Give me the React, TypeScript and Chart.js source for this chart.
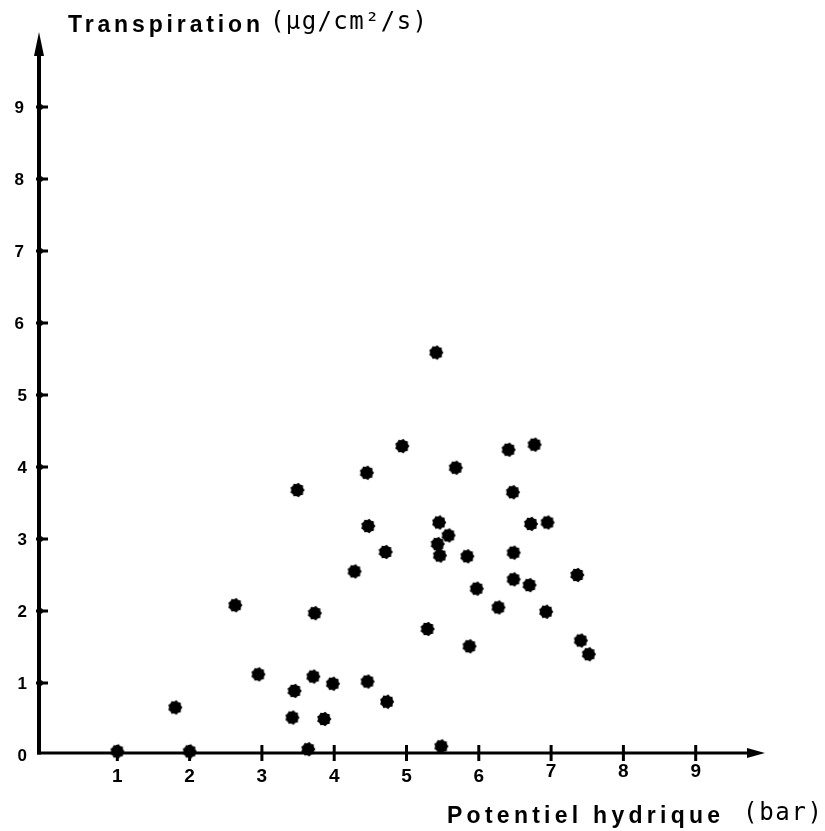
import { useEffect, useRef } from 'react';
import { Chart, registerables } from 'chart.js';

Chart.register(...registerables);

// Potentiel hydrique (bar)
const potentielHydrique = [
  1.0, 1.8, 2.0, 2.63, 2.95, 3.49, 3.42, 3.45, 3.71, 3.73, 3.64, 3.86, 3.98, 4.28, 4.46,
  4.47, 4.45, 4.71, 4.73, 4.94, 5.29, 5.48, 5.45, 5.41, 6.41, 6.77, 5.68, 6.47, 6.72, 6.95,
  5.58, 5.43, 5.46, 5.84, 6.48, 6.48, 6.7, 7.36, 5.97, 6.27, 6.93, 5.87, 7.41, 7.52,
];
// Transpiration (µg/cm²/s)
const transpiration = [
  0.05, 0.66, 0.05, 2.08, 1.12, 3.68, 0.52, 0.89, 1.09, 1.97, 0.08, 0.5, 0.99, 2.55, 1.02,
  3.18, 3.92, 2.82, 0.74, 4.29, 1.75, 0.12, 3.23, 5.59, 4.24, 4.31, 3.99, 3.65, 3.21, 3.23,
  3.05, 2.93, 2.77, 2.76, 2.81, 2.44, 2.36, 2.5, 2.31, 2.05, 1.99, 1.51, 1.59, 1.4,
];

const xTickValues = [1, 2, 3, 4, 5, 6, 7, 8, 9];
const xTickLabels = ['1', '2', '3', '4', '5', '6', '7', '8', '9'];
const yTickValues = [0, 1, 2, 3, 4, 5, 6, 7, 8, 9];
const yTickLabels = ['0', '1', '2', '3', '4', '5', '6', '7', '8', '9'];

const yAxisTitle = 'Transpiration';
const yAxisUnit = '(µg/cm²/s)';
const xAxisTitle = 'Potentiel hydrique';
const xAxisUnit = '(bar)';

function makeDot(): HTMLCanvasElement {
  const c = document.createElement('canvas');
  c.width = 16;
  c.height = 16;
  const g = c.getContext('2d')!;
  g.fillStyle = '#000';
  g.beginPath();
  const n = 18;
  for (let i = 0; i < n; i++) {
    const a = (i / n) * Math.PI * 2;
    const r = i % 2 ? 6.1 : 7.3;
    const px = 8 + r * Math.cos(a);
    const py = 8 + r * Math.sin(a);
    if (i === 0) g.moveTo(px, py);
    else g.lineTo(px, py);
  }
  g.closePath();
  g.fill();
  return c;
}

function fitText(ctx: CanvasRenderingContext2D, text: string, x: number, y: number, width: number, font: string) {
  ctx.save();
  ctx.font = font;
  (ctx as any).letterSpacing = '0px';
  const w = ctx.measureText(text).width;
  const n = Array.from(text).length;
  const sp = n > 1 ? (width - w) / (n - 1) : 0;
  (ctx as any).letterSpacing = sp.toFixed(2) + 'px';
  ctx.textAlign = 'left';
  ctx.textBaseline = 'alphabetic';
  ctx.fillStyle = '#000';
  ctx.fillText(text, x, y);
  ctx.restore();
}

const axesPlugin = {
  id: 'handAxes',
  beforeDatasetsDraw(chart: any) {
    const { ctx, scales } = chart;
    const xs = scales.x;
    const ys = scales.y;
    const xAxisY = ys.getPixelForValue(0) - 2;
    const yAxisX = xs.getPixelForValue(0) - 6;
    const yTop = ys.getPixelForValue(10) - 3;
    const xRight = xs.getPixelForValue(10) - 3;
    ctx.save();
    ctx.strokeStyle = '#000';
    ctx.fillStyle = '#000';
    ctx.lineCap = 'butt';
    // y axis
    ctx.lineWidth = 4;
    ctx.beginPath();
    ctx.moveTo(yAxisX, xAxisY + 1.5);
    ctx.lineTo(yAxisX, yTop + 15);
    ctx.stroke();
    ctx.beginPath();
    ctx.moveTo(yAxisX, yTop);
    ctx.lineTo(yAxisX - 5, yTop + 24);
    ctx.lineTo(yAxisX + 5, yTop + 24);
    ctx.closePath();
    ctx.fill();
    // x axis
    ctx.lineWidth = 3;
    ctx.beginPath();
    ctx.moveTo(yAxisX - 2, xAxisY);
    ctx.lineTo(xRight - 15, xAxisY);
    ctx.stroke();
    ctx.beginPath();
    ctx.moveTo(xRight, xAxisY);
    ctx.lineTo(xRight - 18, xAxisY - 5);
    ctx.lineTo(xRight - 18, xAxisY + 5);
    ctx.closePath();
    ctx.fill();
    // x ticks
    ctx.lineWidth = 3;
    xTickValues.forEach((v, i) => {
      const px = xs.getPixelForValue(v);
      ctx.beginPath();
      ctx.moveTo(px, xAxisY - 8);
      ctx.lineTo(px, xAxisY + 8);
      ctx.stroke();
      ctx.font = 'bold 19px "Liberation Sans", Arial, sans-serif';
      ctx.textAlign = 'center';
      ctx.textBaseline = 'middle';
      ctx.fillText(xTickLabels[i], px, 777 - (v > 6 ? 5 : 0));
    });
    // y ticks
    yTickValues.forEach((v, i) => {
      const py = ys.getPixelForValue(v);
      if (v > 0) {
        ctx.beginPath();
        ctx.moveTo(yAxisX - 3, py);
        ctx.lineTo(yAxisX + 9, py);
        ctx.stroke();
        ctx.beginPath();
        ctx.arc(yAxisX + 1, py, 3, 0, Math.PI * 2);
        ctx.fill();
      }
      ctx.font = 'bold 17px "Liberation Sans", Arial, sans-serif';
      ctx.textAlign = 'right';
      ctx.textBaseline = 'middle';
      ctx.fillText(yTickLabels[i], 30 - (v > 5 ? 6 : 3), py + 1);
    });
    ctx.restore();
    // titles
    fitText(ctx, yAxisTitle, 68, 32, 192, 'bold 23px "Liberation Sans", Arial, sans-serif');
    fitText(ctx, yAxisUnit, 270, 29, 157, '24px "DejaVu Sans Mono", monospace');
    fitText(ctx, xAxisTitle, 447, 823, 273, 'bold 23px "Liberation Sans", Arial, sans-serif');
    fitText(ctx, xAxisUnit, 743, 820, 79, '24px "DejaVu Sans Mono", monospace');
  },
};

export default function App() {
  const ref = useRef<HTMLCanvasElement>(null);
  useEffect(() => {
    document.body.style.margin = '0';
    document.body.style.background = '#fff';
    const dot = makeDot();
    const data = potentielHydrique.map((x, i) => ({ x, y: transpiration[i] }));
    const chart = new Chart(ref.current!, {
      type: 'scatter',
      data: {
        datasets: [
          {
            label: 'Transpiration',
            data,
            pointStyle: dot as any,
            pointRadius: 7,
            backgroundColor: '#000',
            borderColor: '#000',
            clip: false as any,
          },
        ],
      },
      options: {
        responsive: false,
        animation: false,
        layout: { padding: { left: 45, right: 57, top: 35, bottom: 76 } },
        plugins: { legend: { display: false }, tooltip: { enabled: false } },
        scales: {
          x: { type: 'linear', min: 0, max: 10, display: false },
          y: { type: 'linear', min: 0, max: 10, display: false },
        },
      },
      plugins: [axesPlugin],
    });
    return () => chart.destroy();
  }, []);
  return <canvas ref={ref} width={825} height={831} style={{ display: 'block', width: 825, height: 831 }} />;
}
